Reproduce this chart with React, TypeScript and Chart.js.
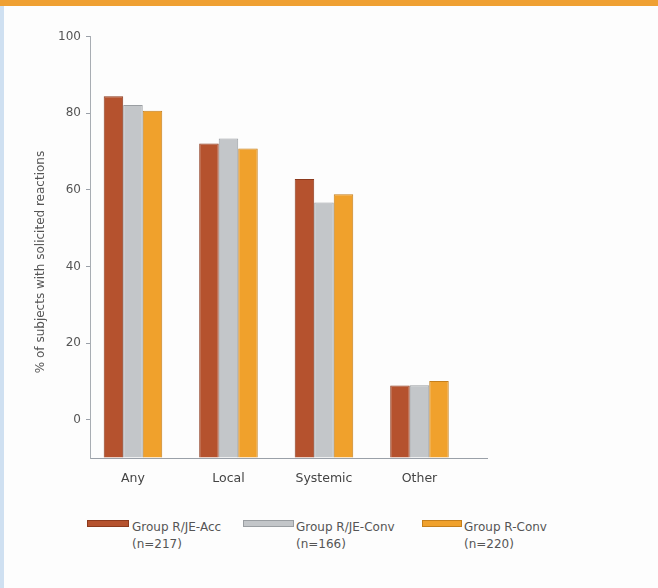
import React, { useEffect, useRef } from "react";
import { Chart, registerables } from "chart.js";

Chart.register(...registerables);

// Reaction categories along the x axis
const categories = ["Any", "Local", "Systemic", "Other"];

// % of subjects with solicited reactions, per group
const accValues = [84.4, 72.1, 62.8, 8.9];
const convValues = [82.1, 73.4, 56.7, 9.0];
const rConvValues = [80.6, 70.8, 58.8, 10.1];

// Legend text (two lines per group)
const groupNames = ["Group R/JE-Acc", "Group R/JE-Conv", "Group R-Conv"];
const groupCounts = ["(n=217)", "(n=166)", "(n=220)"];

const yTicks = [0, 20, 40, 60, 80, 100];
const yTitle = "% of subjects with solicited reactions";

const FONT = "'DejaVu Sans', sans-serif";

const fills = ["#b5522e", "#c3c6c9", "#f0a12c"];
const edges = ["#8c3a1d", "#9a9ea2", "#c47f1c"];

const toPoints = (vals: number[]) => vals.map((v, i) => ({ x: i, y: v }));

// Rotated y-axis caption, placed a little below the axis midpoint
const yTitlePlugin = {
  id: "yTitle",
  afterDraw(chart: any) {
    const { ctx } = chart;
    ctx.save();
    ctx.translate(41, 262);
    ctx.rotate(-Math.PI / 2);
    ctx.font = `12px ${FONT}`;
    ctx.fillStyle = "#555";
    ctx.textAlign = "center";
    ctx.textBaseline = "middle";
    ctx.fillText(yTitle, 0, 0);
    ctx.restore();
  },
};

export default function App() {
  const ref = useRef<HTMLCanvasElement | null>(null);

  useEffect(() => {
    if (!ref.current) return;
    const series = [accValues, convValues, rConvValues];
    const chart = new Chart(ref.current, {
      type: "bar",
      data: {
        datasets: series.map((vals, k) => ({
          label: groupNames[k],
          data: toPoints(vals),
          base: -10,
          backgroundColor: fills[k],
          borderColor: edges[k],
          borderWidth: 1,
          categoryPercentage: 0.613,
          barPercentage: 1,
        })),
      },
      options: {
        animation: false,
        responsive: false,
        maintainAspectRatio: false,
        layout: { padding: { left: 0, top: 36.5, right: 171, bottom: 12 } },
        plugins: {
          legend: { display: false },
          tooltip: { enabled: false },
        },
        scales: {
          x: {
            type: "linear",
            offset: false,
            min: -0.45,
            max: 3.707,
            afterFit: (s: any) => {
              s.height = 30;
            },
            afterBuildTicks: (s: any) => {
              s.ticks = categories.map((_, i) => ({ value: i }));
            },
            grid: { display: false, drawTicks: false, offset: false },
            border: { display: true, color: "#9aa0a8", width: 1, dash: [2, 1] },
            ticks: {
              autoSkip: false,
              maxRotation: 0,
              padding: 13,
              color: "#444",
              font: { family: FONT, size: 12.5 },
              callback: (v: any) => {
                const n = Number(v);
                return Number.isInteger(n) && categories[n] !== undefined ? categories[n] : "";
              },
            },
          },
          y: {
            min: -10,
            max: 100,
            afterFit: (s: any) => {
              s.width = 90;
            },
            afterBuildTicks: (s: any) => {
              s.ticks = [{ value: -10 }, ...yTicks.map((v) => ({ value: v }))];
            },
            grid: {
              drawOnChartArea: false,
              drawTicks: true,
              tickLength: 4,
              color: (c: any) => (c.tick && c.tick.value < 0 ? "rgba(0,0,0,0)" : "#9aa0a8"),
            },
            border: { display: true, color: "#a8adb3", width: 1, dash: [1, 2] },
            ticks: {
              padding: 5,
              color: "#555",
              font: { family: FONT, size: 12 },
              callback: (v: any) => (Number(v) < 0 ? "" : String(v)),
            },
          },
        },
      },
      plugins: [yTitlePlugin],
    });
    return () => chart.destroy();
  }, []);

  const legendPos = [
    { box: 87, boxW: 42, text: 132 },
    { box: 243, boxW: 51, text: 296 },
    { box: 422, boxW: 40, text: 464 },
  ];

  return (
    <div
      style={{
        position: "absolute",
        left: 0,
        top: 0,
        width: 658,
        height: 588,
        background: "#fdfdfd",
        overflow: "hidden",
        fontFamily: FONT,
      }}
    >
      <div style={{ position: "absolute", left: 0, top: 0, width: 658, height: 6, background: "#efa033" }} />
      <div style={{ position: "absolute", left: 0, top: 6, width: 4, height: 582, background: "#cfe0f1" }} />
      <canvas ref={ref} width={658} height={500} style={{ position: "absolute", left: 0, top: 0 }} />
      {legendPos.map((p, k) => (
        <React.Fragment key={k}>
          <div
            style={{
              position: "absolute",
              left: p.box,
              top: 520,
              width: p.boxW,
              height: 7,
              background: fills[k],
              boxSizing: "border-box",
              border: `1px solid ${edges[k]}`,
            }}
          />
          <div
            style={{
              position: "absolute",
              left: p.text,
              top: 519,
              fontSize: 12,
              lineHeight: "17px",
              color: "#555",
              whiteSpace: "nowrap",
            }}
          >
            <div>{groupNames[k]}</div>
            <div>{groupCounts[k]}</div>
          </div>
        </React.Fragment>
      ))}
    </div>
  );
}
